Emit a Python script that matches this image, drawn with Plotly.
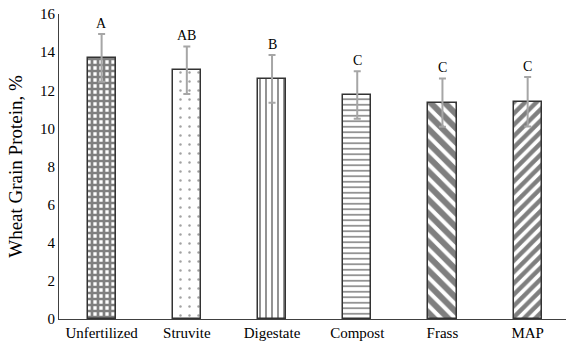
import plotly.graph_objects as go

categories = ["Unfertilized", "Struvite", "Digestate", "Compost", "Frass", "MAP"]
protein = [13.7, 13.05, 12.6, 11.75, 11.35, 11.4]
sd = [1.25, 1.25, 1.25, 1.25, 1.27, 1.3]
letters = ["A", "AB", "B", "C", "C", "C"]
shapes = ["+", ".", "|", "-", "\\", "/"]
sizes = [6, 9, 6, 5.5, 10, 8]
solidities = [0.7, 0.06, 0.28, 0.28, 0.6, 0.55]
fgcolors = ["black", "#444444", "black", "black", "black", "black"]

FONT = "Liberation Serif, Times New Roman, serif"

fig = go.Figure()
for i, c in enumerate(categories):
    fig.add_trace(go.Bar(
        x=[c], y=[protein[i]],
        width=0.33,
        marker=dict(
            color="white",
            line=dict(color="#333333", width=1.5),
            pattern=dict(shape=shapes[i], size=sizes[i], solidity=solidities[i],
                         fgcolor=fgcolors[i], bgcolor="white", fillmode="overlay"),
        ),
        error_y=dict(type="data", array=[sd[i]], visible=True, color="#a6a6a6",
                     thickness=2, width=3.5),
        showlegend=False,
    ))

for i, c in enumerate(categories):
    fig.add_annotation(x=c, y=protein[i] + sd[i], text=letters[i], showarrow=False,
                       yanchor="bottom", yshift=1,
                       font=dict(family=FONT, size=14, color="black"))

fig.update_layout(
    width=566, height=345,
    margin=dict(l=59, r=0, t=14, b=26, autoexpand=False),
    plot_bgcolor="white", paper_bgcolor="white",
    font=dict(family=FONT, size=14, color="black"),
    bargap=0,
)
fig.update_xaxes(
    range=[-0.5, 5.45], showline=True, linecolor="#404040", linewidth=1,
    ticks="", showgrid=False, tickfont=dict(family=FONT, size=15), automargin=False,
)
fig.update_yaxes(
    range=[0, 16], dtick=2, showline=True, linecolor="#404040", linewidth=1,
    ticks="", showgrid=False, zeroline=False, tickfont=dict(family=FONT, size=15),
    automargin=False,
    title=dict(text="Wheat Grain Protein, %", font=dict(family=FONT, size=19), standoff=12),
)

# remove the default 8px body margin so the figure fills the 566x345 window
fig.write_html("out.html", config={"displayModeBar": False},
               post_script="document.body.style.margin='0px';")
